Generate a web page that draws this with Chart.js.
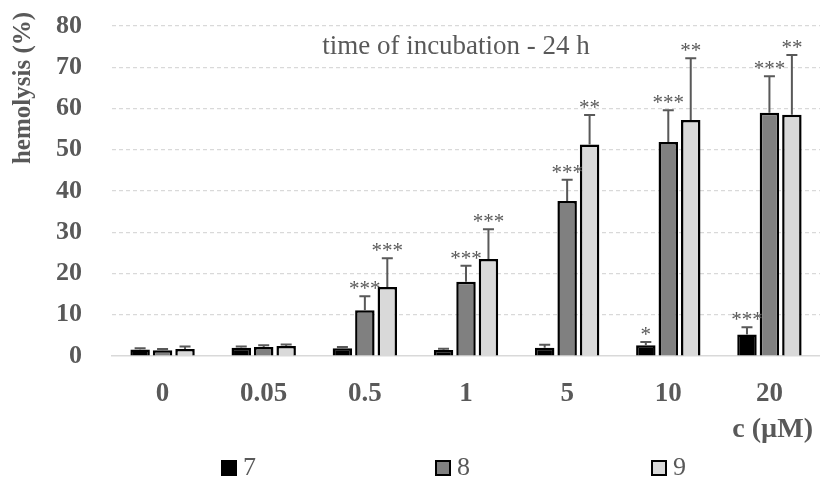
<!DOCTYPE html>
<html>
<head>
<meta charset="utf-8">
<script src="https://cdn.jsdelivr.net/npm/chart.js@4"></script>
<style>
  html, body { margin: 0; padding: 0; background: #fff; }
  #wrap { width: 820px; height: 480px; }
</style>
</head>
<body>
<div id="wrap"><canvas id="hemoChart"></canvas></div>
<script>
// concentrations (µM)
const concentrations = ['0', '0.05', '0.5', '1', '5', '10', '20'];

// mean hemolysis (%) per compound
const hemo7 = [1.6, 2.0, 1.9, 1.45, 2.0, 2.6, 5.2];
const hemo8 = [1.4, 2.2, 11.1, 18.0, 37.6, 51.9, 59.0];
const hemo9 = [1.7, 2.4, 16.7, 23.5, 51.3, 57.2, 58.5];

// upper error (SD)
const err7 = [0.3, 0.3, 0.3, 0.3, 0.7, 0.8, 1.8];
const err8 = [0.3, 0.4, 3.4, 3.9, 5.1, 7.7, 8.8];
const err9 = [0.6, 0.4, 7.0, 7.2, 7.1, 15.0, 14.5];

// significance marks
const sig7 = ['', '', '', '', '', '*', '***'];
const sig8 = ['', '', '***', '***', '***', '***', '***'];
const sig9 = ['', '', '***', '***', '**', '**', '**'];

const yTicks = [0, 10, 20, 30, 40, 50, 60, 70, 80];

const errors = [err7, err8, err9];
const marks = [sig7, sig8, sig9];

const serif = "'Liberation Serif', 'Times New Roman', serif";
const textGray = '#595959';
const legendX = [222, 436, 652];   // left edge of each legend square

// error bars, asterisks, titles and the legend row
const extrasPlugin = {
    id: 'extras',
    afterDatasetsDraw(chart) {
        const ctx = chart.ctx;
        const yScale = chart.scales.y;
        ctx.save();
        chart.data.datasets.forEach((ds, di) => {
            const meta = chart.getDatasetMeta(di);
            meta.data.forEach((bar, i) => {
                const topY = yScale.getPixelForValue(ds.data[i] + errors[di][i]);
                ctx.strokeStyle = textGray;
                ctx.lineWidth = 2;
                ctx.beginPath();
                ctx.moveTo(bar.x, bar.y);
                ctx.lineTo(bar.x, topY);
                ctx.moveTo(bar.x - 5.5, topY);
                ctx.lineTo(bar.x + 5.5, topY);
                ctx.stroke();

                if (marks[di][i]) {
                    ctx.fillStyle = textGray;
                    ctx.font = '21px ' + serif;
                    ctx.textAlign = 'center';
                    ctx.textBaseline = 'alphabetic';
                    ctx.fillText(marks[di][i], bar.x, topY - 1);
                }
            });
        });
        ctx.restore();
    },
    afterDraw(chart) {
        const ctx = chart.ctx;
        ctx.save();
        // y axis title, sitting toward the top
        ctx.translate(24, 88);
        ctx.rotate(-Math.PI / 2);
        ctx.fillStyle = textGray;
        ctx.font = 'bold 25px ' + serif;
        ctx.textAlign = 'center';
        ctx.textBaseline = 'middle';
        ctx.fillText('hemolysis (%)', 0, 0);
        ctx.restore();

        ctx.save();
        ctx.fillStyle = textGray;
        ctx.textBaseline = 'middle';
        ctx.font = '27px ' + serif;
        ctx.textAlign = 'center';
        ctx.fillText('time of incubation - 24 h', 456, 47);

        // x axis title at the right end
        ctx.font = 'bold 28px ' + serif;
        ctx.textAlign = 'right';
        ctx.fillText('c (µM)', 813, 430);

        // legend
        ctx.font = '26px ' + serif;
        ctx.textAlign = 'left';
        chart.data.datasets.forEach((ds, di) => {
            const x = legendX[di];
            ctx.fillStyle = ds.backgroundColor;
            ctx.fillRect(x, 461, 14, 14);
            ctx.strokeStyle = ds.borderColor;
            ctx.lineWidth = 2;
            ctx.strokeRect(x, 461, 14, 14);
            ctx.fillStyle = textGray;
            ctx.fillText(ds.label, x + 21, 468);
        });
        ctx.restore();
    }
};

const hemoChart = new Chart(document.getElementById('hemoChart'), {
    type: 'bar',
    data: {
        labels: concentrations,
        datasets: [
            { label: '7', data: hemo7, backgroundColor: '#000000', borderColor: '#000000', borderWidth: 2.5 },
            { label: '8', data: hemo8, backgroundColor: '#808080', borderColor: '#000000', borderWidth: 2.5 },
            { label: '9', data: hemo9, backgroundColor: '#d9d9d9', borderColor: '#000000', borderWidth: 2.5 }
        ]
    },
    options: {
        responsive: true,
        maintainAspectRatio: false,
        animation: false,
        categoryPercentage: 0.666,
        barPercentage: 0.867,
        layout: { padding: 0 },
        plugins: {
            tooltip: { enabled: false },
            legend: { display: false }
        },
        scales: {
            x: {
                grid: { display: false },
                border: { display: true, color: '#d9d9d9', width: 1.5 },
                ticks: {
                    color: textGray,
                    padding: 14,
                    font: { family: serif, size: 27, weight: 'bold' }
                },
                afterFit: (scale) => { scale.height = 124; }
            },
            y: {
                min: yTicks[0],
                max: yTicks[yTicks.length - 1],
                grid: {
                    drawTicks: false,
                    color: (c) => c.tick && c.tick.value === 0 ? 'rgba(0,0,0,0)' : '#d9d9d9',
                    lineWidth: 1.2
                },
                border: { display: false, dash: [4, 3] },
                ticks: {
                    stepSize: yTicks[1] - yTicks[0],
                    autoSkip: false,
                    color: textGray,
                    padding: 30,
                    font: { family: serif, size: 26, weight: 'bold' }
                },
                afterFit: (scale) => {
                    scale.width = 112;
                    // top of the plot sits at 26px
                    scale.paddingTop = 26;
                    scale.paddingBottom = 0;
                }
            }
        }
    },
    plugins: [extrasPlugin]
});
</script>
</body>
</html>
